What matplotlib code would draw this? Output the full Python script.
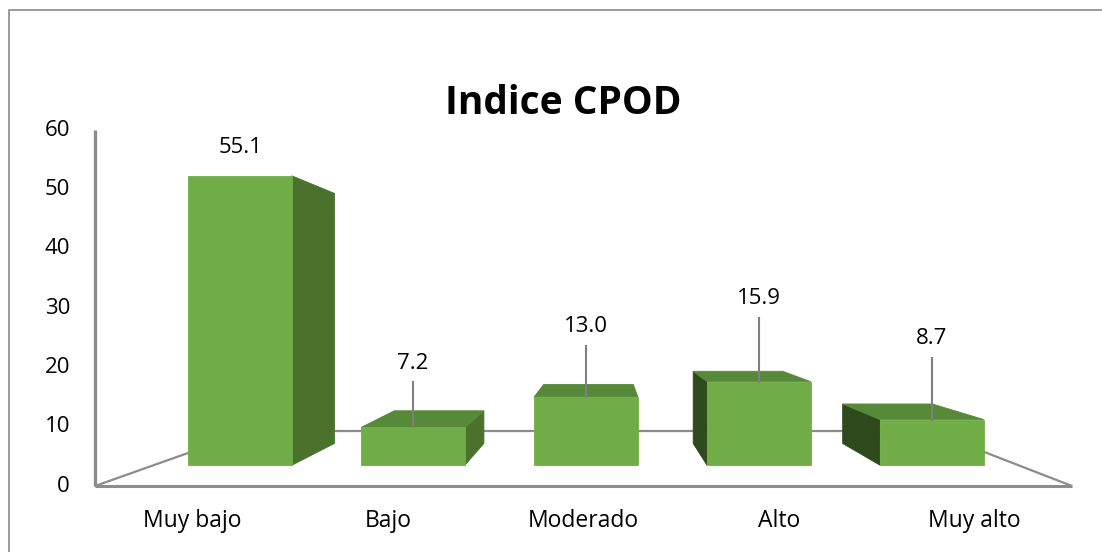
"""Indice CPOD - Excel-style 3D column chart redrawn with a simple one-point perspective."""
import matplotlib

matplotlib.use("Agg")
import matplotlib.pyplot as plt
import numpy as np

categories = ["Muy bajo", "Bajo", "Moderado", "Alto", "Muy alto"]
values = [55.1, 7.2, 13.0, 15.9, 8.7]
y_ticks = [0, 10, 20, 30, 40, 50, 60]
title = "Indice CPOD"

# layout, in figure pixels (1102 x 552)
W, H = 1102, 552
VP = np.array([605.0, 305.0])          # vanishing point of the 3D view
X0, CAT_W = 95.0, 195.4                # front plane: wall x, width of one category
Y0, PPU = 486.0, (486.0 - 130.0) / 60  # front plane: y of value 0, pixels per unit
S_FLOOR_BACK = 0.696                   # depth scale of the back floor edge
S_BAR_FRONT, S_BAR_BACK = 0.885, 0.765
BAR_W = 0.6                            # bar width as share of a category
LABEL_LIFT = [28, 64, 70, 83, 81]      # px from bar top to label centre (moved labels get a leader)

FRONT, TOP, RSIDE, LSIDE = "#70ad47", "#578a38", "#4a722d", "#2e4a1d"
AXIS_GREY = "#8c8c8c"
FONT = "Open Sans"
FS = 16


def proj(xc, v, s):
    """Category position xc, value v, depth scale s -> figure pixel."""
    p = np.array([X0 + xc * CAT_W, Y0 - v * PPU])
    return VP + (p - VP) * s


def poly(ax, pts, color, z):
    pts = np.array(pts)
    ax.fill(pts[:, 0], pts[:, 1], color=color, lw=0.6, zorder=z)


def line(ax, a, b, lw=1.6, z=1):
    ax.plot([a[0], b[0]], [a[1], b[1]], color=AXIS_GREY, lw=lw, zorder=z,
            solid_capstyle="butt")


fig = plt.figure(figsize=(W / 100, H / 100), dpi=100)
ax = fig.add_axes([0, 0, 1, 1])
ax.set_xlim(0, W)
ax.set_ylim(H, 0)
ax.axis("off")

# chart border (only left/top visible in the crop)
ax.plot([9, 9, W], [H, 10, 10], color="#999999", lw=1.4, zorder=0)

# floor + wall
n = len(categories)
line(ax, proj(0, 0, 1), proj(n, 0, 1), lw=2.2)
line(ax, proj(0, 0, S_FLOOR_BACK), proj(n, 0, S_FLOOR_BACK))
line(ax, proj(0, 0, 1), proj(0, 0, S_FLOOR_BACK))
line(ax, proj(n, 0, 1), proj(n, 0, S_FLOOR_BACK))
line(ax, proj(0, 0, 1), proj(0, y_ticks[-1], 1), lw=2.4)

# bars
for i, v in enumerate(values):
    xl, xr = i + 0.5 - BAR_W / 2, i + 0.5 + BAR_W / 2
    f = {k: proj(x, y, S_BAR_FRONT) for k, (x, y) in
         {"bl": (xl, 0), "br": (xr, 0), "tl": (xl, v), "tr": (xr, v)}.items()}
    b = {k: proj(x, y, S_BAR_BACK) for k, (x, y) in
         {"bl": (xl, 0), "br": (xr, 0), "tl": (xl, v), "tr": (xr, v)}.items()}
    if f["br"][0] < VP[0]:
        poly(ax, [f["br"], b["br"], b["tr"], f["tr"]], RSIDE, 3)
    if f["bl"][0] > VP[0]:
        poly(ax, [f["bl"], b["bl"], b["tl"], f["tl"]], LSIDE, 3)
    if f["tl"][1] > VP[1]:
        poly(ax, [f["tl"], f["tr"], b["tr"], b["tl"]], TOP, 3)
    poly(ax, [f["bl"], f["br"], f["tr"], f["tl"]], FRONT, 4)

    # value label, with a leader line when it was dragged away from the bar
    top = proj(i + 0.5, v, S_BAR_FRONT)
    ly = top[1] - LABEL_LIFT[i]
    ax.text(top[0], ly, f"{v:.1f}", ha="center", va="center", fontsize=FS,
            family=FONT, color="#000000", zorder=6)
    if LABEL_LIFT[i] > 40:
        ax.plot([top[0], top[0]], [ly + 19, top[1]], color="#7f7f7f", lw=1.5, zorder=5)

# y tick labels on the front wall
for t in y_ticks:
    ax.text(70, proj(0, t, 1)[1], str(t), ha="right", va="center", fontsize=FS,
            family=FONT, color="#000000")

# category labels
for i, c in enumerate(categories):
    ax.text(proj(i + 0.5, 0, 1)[0], 521, c, ha="center", va="center", fontsize=FS + 0.5,
            family=FONT, color="#000000")

ax.text(563, 103, title, ha="center", va="center", fontsize=28, fontweight="bold",
        family=FONT, color="#000000")

fig.savefig("out.png", dpi=100)
